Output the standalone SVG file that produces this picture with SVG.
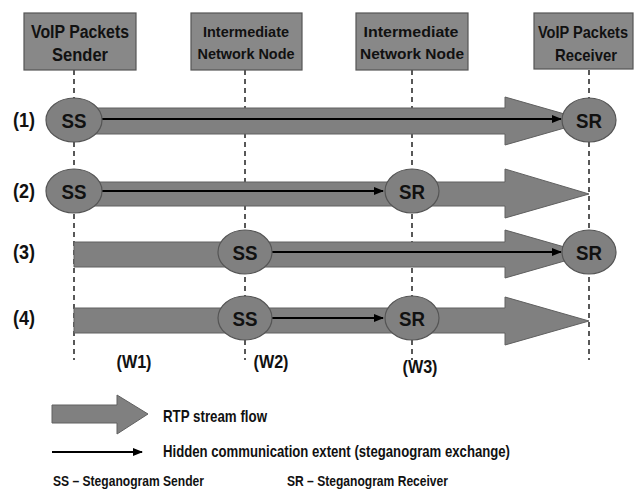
<svg xmlns="http://www.w3.org/2000/svg" width="635" height="490" viewBox="0 0 635 490">
<defs>
<style>
.box{fill:#888;stroke:#555;stroke-width:1.2}
.ell{fill:#808080;stroke:#555;stroke-width:1.2}
.flow{fill:#808080;stroke:#606060;stroke-width:1}
.dash{stroke:#222;stroke-width:1.5;stroke-dasharray:5,4;fill:none}
.hid{stroke:#000;stroke-width:2;fill:none;marker-end:url(#ah)}
.nt{font-family:"Liberation Sans Narrow","Arial Narrow","Liberation Sans",sans-serif;font-weight:bold;fill:#111;text-anchor:middle}
.st{text-anchor:start}
.lg{font-family:"Liberation Sans",Arial,sans-serif;font-weight:bold;fill:#111}
</style>
<marker id="ah" viewBox="0 0 10 10" refX="9" refY="5" markerWidth="5" markerHeight="5" orient="auto" markerUnits="strokeWidth">
<path d="M0,1 L10,5 L0,9 z" fill="#000"/>
</marker>
</defs>
<rect width="635" height="490" fill="#fff"/>

<g id="lifelines">
<line class="dash" x1="74" y1="70" x2="74" y2="360"/>
<line class="dash" x1="245" y1="70" x2="245" y2="360"/>
<line class="dash" x1="412" y1="70" x2="412" y2="360"/>
<line class="dash" x1="589" y1="70" x2="589" y2="360"/>
</g>

<g id="box-sender">
<rect class="box" x="24" y="13" width="112" height="57"/>
<text class="nt" x="80" y="38" font-size="18" textLength="98" lengthAdjust="spacingAndGlyphs">VoIP Packets</text>
<text class="nt" x="80" y="61" font-size="18" textLength="56" lengthAdjust="spacingAndGlyphs">Sender</text>
</g>
<g id="box-node1">
<rect class="box" x="191" y="13" width="111" height="57"/>
<text class="nt" x="246" y="37" font-size="15" textLength="86" lengthAdjust="spacingAndGlyphs">Intermediate</text>
<text class="nt" x="246" y="59" font-size="15" textLength="97" lengthAdjust="spacingAndGlyphs">Network Node</text>
</g>
<g id="box-node2">
<rect class="box" x="356" y="13" width="112" height="57"/>
<text class="nt" x="411" y="37" font-size="15" textLength="95" lengthAdjust="spacingAndGlyphs">Intermediate</text>
<text class="nt" x="412" y="59" font-size="15" textLength="104" lengthAdjust="spacingAndGlyphs">Network Node</text>
</g>
<g id="box-receiver">
<rect class="box" x="534" y="13" width="99" height="56"/>
<text class="nt" x="583" y="38" font-size="16" textLength="90" lengthAdjust="spacingAndGlyphs">VoIP Packets</text>
<text class="nt" x="586" y="61" font-size="17" textLength="62" lengthAdjust="spacingAndGlyphs">Receiver</text>
</g>

<g id="row-labels">
<text class="nt" x="24" y="127" font-size="20" textLength="22" lengthAdjust="spacingAndGlyphs">(1)</text>
<text class="nt" x="24" y="198" font-size="20" textLength="22" lengthAdjust="spacingAndGlyphs">(2)</text>
<text class="nt" x="24" y="259" font-size="20" textLength="22" lengthAdjust="spacingAndGlyphs">(3)</text>
<text class="nt" x="24" y="325" font-size="20" textLength="22" lengthAdjust="spacingAndGlyphs">(4)</text>
</g>

<g id="connectors">
<polygon class="flow" points="74,108 505,108 505,97 589,121 505,145 505,134 74,134"/>
<polygon class="flow" points="74,182 505,182 505,169 589,194 505,218 505,206 74,206"/>
<polygon class="flow" points="74,242 505,242 505,230 589,254 505,278 505,267 74,267"/>
<polygon class="flow" points="74,308 505,308 505,297 589,321 505,345 505,333 74,333"/>
<line class="hid" x1="102" y1="119" x2="561" y2="119"/>
<line class="hid" x1="102" y1="191" x2="383" y2="191"/>
<line class="hid" x1="272" y1="252" x2="561" y2="252"/>
<line class="hid" x1="272" y1="318" x2="383" y2="318"/>
</g>

<g id="ss1"><ellipse class="ell" cx="74" cy="120" rx="28" ry="22"/><text class="nt" x="74" y="128" font-size="21" textLength="25" lengthAdjust="spacingAndGlyphs">SS</text></g>
<g id="sr1"><ellipse class="ell" cx="589" cy="120" rx="27" ry="22"/><text class="nt" x="589" y="128" font-size="21" textLength="26" lengthAdjust="spacingAndGlyphs">SR</text></g>
<g id="ss2"><ellipse class="ell" cx="74" cy="191" rx="28" ry="22"/><text class="nt" x="74" y="199" font-size="21" textLength="25" lengthAdjust="spacingAndGlyphs">SS</text></g>
<g id="sr2"><ellipse class="ell" cx="412" cy="191" rx="27" ry="22"/><text class="nt" x="412" y="199" font-size="21" textLength="26" lengthAdjust="spacingAndGlyphs">SR</text></g>
<g id="ss3"><ellipse class="ell" cx="245" cy="252" rx="27" ry="22"/><text class="nt" x="245" y="260" font-size="21" textLength="25" lengthAdjust="spacingAndGlyphs">SS</text></g>
<g id="sr3"><ellipse class="ell" cx="589" cy="252" rx="27" ry="22"/><text class="nt" x="589" y="260" font-size="21" textLength="26" lengthAdjust="spacingAndGlyphs">SR</text></g>
<g id="ss4"><ellipse class="ell" cx="245" cy="318" rx="27" ry="22"/><text class="nt" x="245" y="326" font-size="21" textLength="25" lengthAdjust="spacingAndGlyphs">SS</text></g>
<g id="sr4"><ellipse class="ell" cx="412" cy="318" rx="27" ry="22"/><text class="nt" x="412" y="326" font-size="21" textLength="26" lengthAdjust="spacingAndGlyphs">SR</text></g>

<g id="w-labels">
<text class="nt" x="134" y="368" font-size="19" textLength="35" lengthAdjust="spacingAndGlyphs">(W1)</text>
<text class="nt" x="271" y="368" font-size="19" textLength="35" lengthAdjust="spacingAndGlyphs">(W2)</text>
<text class="nt" x="420" y="373" font-size="19" textLength="35" lengthAdjust="spacingAndGlyphs">(W3)</text>
</g>

<g id="legend">
<polygon class="flow" points="52,405 117,405 117,395 148,414 117,434 117,423 52,423"/>
<text class="nt st" x="163" y="422" font-size="17" textLength="104" lengthAdjust="spacingAndGlyphs">RTP stream flow</text>
<line class="hid" x1="52" y1="452" x2="142" y2="452"/>
<text class="nt st" x="163" y="457" font-size="17" textLength="347" lengthAdjust="spacingAndGlyphs">Hidden communication extent (steganogram exchange)</text>
<text class="lg" x="53" y="486" font-size="14" textLength="151" lengthAdjust="spacingAndGlyphs">SS – Steganogram Sender</text>
<text class="lg" x="287" y="486" font-size="14" textLength="161" lengthAdjust="spacingAndGlyphs">SR – Steganogram Receiver</text>
</g>
</svg>
